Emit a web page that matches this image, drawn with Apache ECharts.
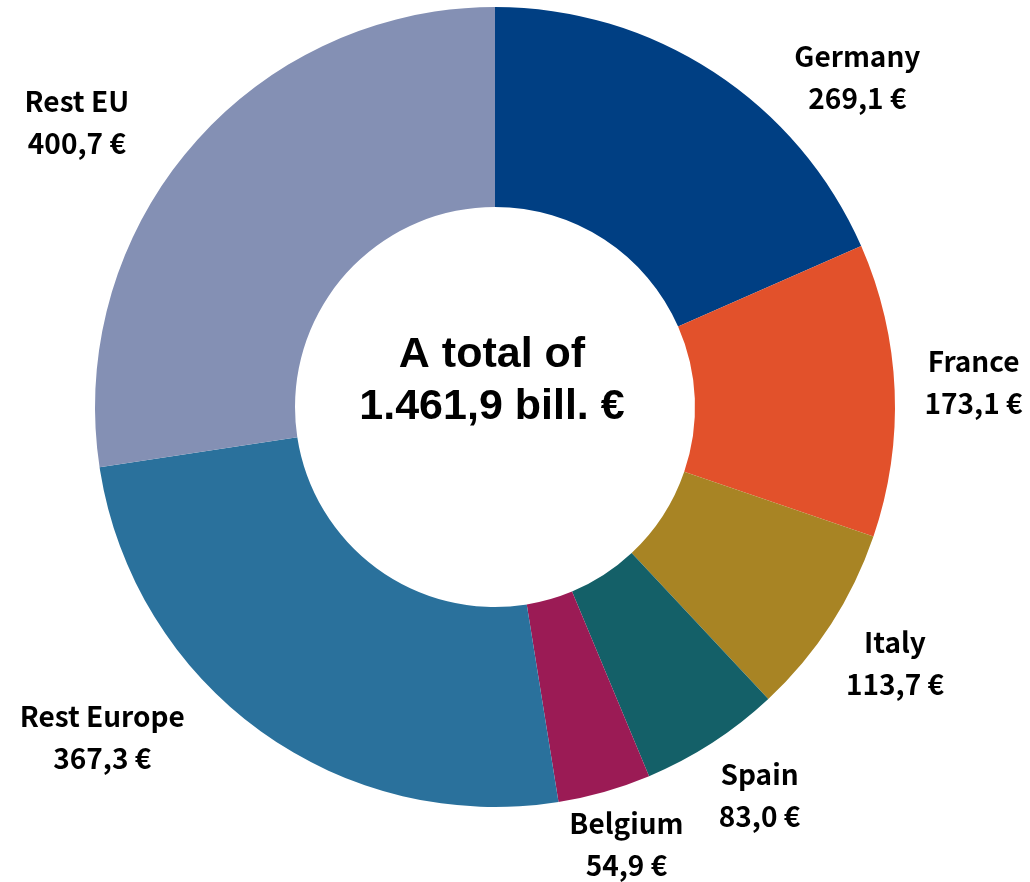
<!DOCTYPE html>
<html>
<head>
<meta charset="utf-8">
<script src="https://cdn.jsdelivr.net/npm/echarts@6/dist/echarts.min.js"></script>
<style>
html,body{margin:0;padding:0;background:#fff;}
#main{width:1030px;height:882px;}
</style>
</head>
<body>
<div id="main"></div>
<script>
// data
var countries = ['Germany', 'France', 'Italy', 'Spain', 'Belgium', 'Rest Europe', 'Rest EU'];
var values = [269.1, 173.1, 113.7, 83.0, 54.9, 367.3, 400.7];
var colors = ['#003f83', '#e2512b', '#a88424', '#146068', '#9b1b55', '#2a719c', '#8490b4'];
var totalText = ['A total of', '1.461,9 bill. €'];

// label placement: radial anchor + small nudge (like the excel labels)
var cx = 495, cy = 407, rIn = 200, rOut = 400, rLabel = 480;
var nudge = [[100, 72], [-1, -4], [-3, -4], [4, -15], [0, -24], [-110, -58], [-54, 28]];

function fmt(v){
	return v.toFixed(1).replace('.', ',') + ' €';
}

var total = 0;
for (var i = 0; i < values.length; i++) total += values[i];
var midAngle = [];
var acc = 0;
for (var i = 0; i < values.length; i++) {
	midAngle.push((acc + values[i] / 2) / total * 2 * Math.PI);
	acc += values[i];
}

var data = [];
for (var i = 0; i < countries.length; i++) {
	data.push({name: countries[i], value: values[i], itemStyle: {color: colors[i]}});
}

var myChart = echarts.init(document.getElementById('main'));
var option = {
	animation: false,
	graphic: [{
		type: 'text',
		x: 492,
		y: 381,
		style: {
			text: totalText.join('\n'),
			x: 0, y: 0,
			align: 'center',
			verticalAlign: 'middle',
			font: 'bold 43px "Liberation Sans", Arial, sans-serif',
			lineHeight: 52,
			fill: '#000'
		}
	}],
	series: [{
		type: 'pie',
		center: [cx, cy],
		radius: [rIn, rOut],
		startAngle: 90,
		clockwise: true,
		avoidLabelOverlap: false,
		data: data,
		label: {
			show: true,
			position: 'outside',
			formatter: function(p){
				return '{a|' + p.name + '}\n{a|' + fmt(p.value) + '}';
			},
			rich: {
				a: {
					fontFamily: '"Noto Sans CJK SC", sans-serif',
					fontWeight: 'bold',
					fontSize: 28,
					lineHeight: 42,
					color: '#000',
					align: 'center'
				}
			}
		},
		labelLine: {show: false},
		labelLayout: function(params){
			var i = params.dataIndex;
			var a = midAngle[i];
			return {
				x: cx + rLabel * Math.sin(a) + nudge[i][0],
				y: cy - rLabel * Math.cos(a) + nudge[i][1],
				align: 'center',
				verticalAlign: 'middle'
			};
		},
		emphasis: {disabled: true}
	}]
};
myChart.setOption(option);
</script>
</body>
</html>
